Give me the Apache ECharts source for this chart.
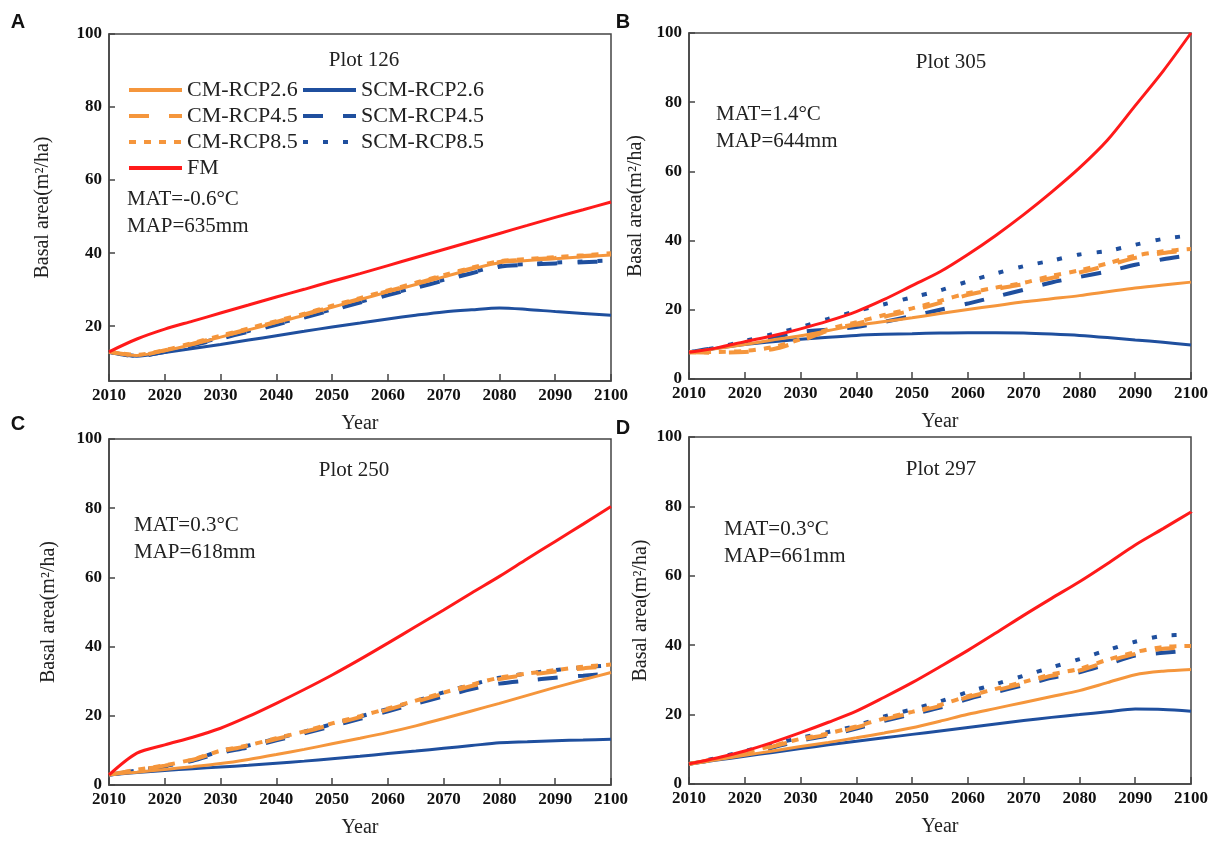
<!DOCTYPE html>
<html>
<head>
<meta charset="utf-8">
<script src="https://cdn.jsdelivr.net/npm/echarts@6/dist/echarts.min.js"></script>
<style>html,body{margin:0;padding:0;background:#fff;}#c{width:1217px;height:843px;}</style>
</head>
<body>
<div id="c"></div>
<script>
// ---- data ----
const years = [2010,2015,2020,2025,2030,2035,2040,2045,2050,2055,2060,2065,2070,2075,2080,2085,2090,2095,2100];
const xTicks = [2010,2020,2030,2040,2050,2060,2070,2080,2090,2100];
const yTicksA = [20,40,60,80,100];
const seriesNames = ['SCM-RCP2.6','SCM-RCP4.5','SCM-RCP8.5','CM-RCP2.6','CM-RCP4.5','CM-RCP8.5','FM'];
const plotTitles = ['Plot 126','Plot 305','Plot 250','Plot 297'];
const matTexts = ['MAT=-0.6°C','MAT=1.4°C','MAT=0.3°C','MAT=0.3°C'];
const mapTexts = ['MAP=635mm','MAP=644mm','MAP=618mm','MAP=661mm'];
const panelLetters = ['A','B','C','D'];

// Panel A (Plot 126)
const A_FM    = [13,16.5,19.2,21.4,23.6,25.8,28,30.1,32.3,34.4,36.6,38.8,41,43.2,45.4,47.6,49.8,51.9,54];
const A_CM26  = [13,12,13.3,15,17,19,21,23,25.2,27.3,29.4,31.4,33.5,35.6,37.4,38,38.5,39,39.5];
const A_CM45  = [13,12,13.4,15.2,17.2,19.2,21.2,23.2,25.4,27.5,29.6,31.7,33.8,35.8,37.6,38.2,38.7,39.2,39.8];
const A_CM85  = [13,12.2,13.5,15.4,17.4,19.4,21.4,23.4,25.6,27.7,29.8,31.9,34,36,37.8,38.4,38.9,39.4,40];
const A_SCM26 = [13,11.8,12.8,13.9,15,16.2,17.4,18.6,19.8,20.9,22,23,23.9,24.5,25,24.6,24,23.5,23];
const A_SCM45 = [13,11.8,13,14.8,16.6,18.5,20.4,22.4,24.4,26.5,28.5,30.5,32.5,34.5,36.3,36.8,37.2,37.5,37.8];
const A_SCM85 = [13,11.9,13.1,15,16.8,18.7,20.6,22.6,24.6,26.7,28.7,30.7,32.7,34.7,36.5,37,37.4,37.7,38];

// Panel B (Plot 305)
const B_FM    = [7.7,9,10.8,12.5,14.5,16.8,19.5,23,27,31,36,41.5,47.5,54,61,69,79,89,100];
const B_CM26  = [7.7,8.8,10,11.3,12.5,14,15.5,16.6,17.7,18.9,20.1,21.2,22.3,23.2,24.1,25.2,26.3,27.2,28];
const B_CM45  = [7.7,7.6,7.8,8.6,11,14,16,18,19.8,22,24.3,26,27.4,29.2,30.8,32.8,35,36.4,37.2];
const B_CM85  = [7.7,7.8,8.1,9.2,11.5,14.4,16.4,18.5,20.4,22.6,24.8,26.4,27.8,29.8,31.4,33.4,35.6,36.9,37.6];
const B_SCM26 = [7.7,8.9,10,10.8,11.5,12.1,12.6,12.9,13.1,13.3,13.4,13.4,13.3,13,12.6,12,11.3,10.6,9.8];
const B_SCM45 = [7.7,9.1,10.3,12,13.6,14.3,15,16.5,18.2,20,21.8,23.8,25.8,27.9,29.5,31.1,33,34.6,35.8];
const B_SCM85 = [7.7,9.1,11,13,15,17.4,19.6,21.6,23.6,25.6,28.2,30.5,32.6,34.2,36,37,38.8,40.5,41.5];

// Panel C (Plot 250)
const C_FM    = [2.9,9.2,11.6,13.8,16.4,19.8,23.6,27.6,31.8,36.3,41,45.8,50.6,55.5,60.3,65.4,70.4,75.4,80.5];
const C_CM26  = [3,3.7,4.5,5.3,6.2,7.4,8.8,10.3,11.9,13.5,15.2,17.1,19.2,21.4,23.6,25.9,28.2,30.4,32.5];
const C_CM45  = [3,4.3,5.6,7.3,9.7,11.3,13.3,15.3,17.5,19.6,21.8,24.1,26.4,28.6,30.6,31.8,32.8,33.7,34.3];
const C_CM85  = [3,4.4,5.7,7.4,9.9,11.5,13.5,15.5,17.8,19.9,22.1,24.4,26.7,29,31,32.2,33.2,34.2,34.8];
const C_SCM26 = [2.9,3.6,4.2,4.7,5.2,5.7,6.3,6.9,7.6,8.3,9.1,9.8,10.6,11.4,12.2,12.5,12.8,13,13.2];
const C_SCM45 = [3,4.1,5.3,7,9.3,10.9,12.9,14.9,17,19.1,21.3,23.5,25.6,27.7,29.3,30.2,31,31.6,32.2];
const C_SCM85 = [3,4.2,5.5,7.2,9.8,11.4,13.4,15.4,17.6,19.8,22,24.3,26.8,29,31,32.2,33.2,34,34.6];

// Panel D (Plot 297)
const D_FM    = [5.8,7.5,9.5,12,14.8,17.8,21,25,29.2,33.8,38.5,43.5,48.6,53.5,58.3,63.5,68.9,73.6,78.4];
const D_CM26  = [5.8,7,8.3,9.5,10.8,12,13.3,14.7,16.2,18.1,20.1,21.8,23.5,25.2,26.9,29.2,31.5,32.5,33];
const D_CM45  = [5.8,7.2,8.8,10.8,12.8,14.3,16.3,18.6,20.5,22.5,25,27,29,31.2,32.7,35.3,37.5,39,39.3];
const D_CM85  = [5.8,7.3,9,11,13,14.6,16.6,18.9,20.8,22.8,25.3,27.4,29.4,31.6,33.2,35.8,38,39.5,39.8];
const D_SCM26 = [5.8,6.9,8,9.1,10.2,11.3,12.3,13.3,14.3,15.3,16.3,17.3,18.3,19.2,20,20.8,21.6,21.5,21];
const D_SCM45 = [5.8,7.1,8.6,10.5,12.5,14,16,18.2,20.1,22,24.5,26.5,28.5,30.6,32.2,34.5,37,37.8,38.5];
const D_SCM85 = [5.8,7.5,9.5,11.5,13.3,15,16.8,19.5,21.5,23.8,26.5,28.8,31.2,33.6,36,38.6,41,42.7,43];

const panels = [
  {'SCM-RCP2.6':A_SCM26,'SCM-RCP4.5':A_SCM45,'SCM-RCP8.5':A_SCM85,'CM-RCP2.6':A_CM26,'CM-RCP4.5':A_CM45,'CM-RCP8.5':A_CM85,'FM':A_FM},
  {'SCM-RCP2.6':B_SCM26,'SCM-RCP4.5':B_SCM45,'SCM-RCP8.5':B_SCM85,'CM-RCP2.6':B_CM26,'CM-RCP4.5':B_CM45,'CM-RCP8.5':B_CM85,'FM':B_FM},
  {'SCM-RCP2.6':C_SCM26,'SCM-RCP4.5':C_SCM45,'SCM-RCP8.5':C_SCM85,'CM-RCP2.6':C_CM26,'CM-RCP4.5':C_CM45,'CM-RCP8.5':C_CM85,'FM':C_FM},
  {'SCM-RCP2.6':D_SCM26,'SCM-RCP4.5':D_SCM45,'SCM-RCP8.5':D_SCM85,'CM-RCP2.6':D_CM26,'CM-RCP4.5':D_CM45,'CM-RCP8.5':D_CM85,'FM':D_FM}
];

// ---- styles / layout ----
const ORANGE = '#F5963C', BLUE = '#1F4F9E', RED = '#FF1A1A';
const lineStyles = {
  'CM-RCP2.6':  {color: ORANGE, width: 3, type: 'solid'},
  'CM-RCP4.5':  {color: ORANGE, width: 4, type: [20, 20]},
  'CM-RCP8.5':  {color: ORANGE, width: 4, type: [7, 8]},
  'SCM-RCP2.6': {color: BLUE, width: 3, type: 'solid'},
  'SCM-RCP4.5': {color: BLUE, width: 4, type: [20, 20]},
  'SCM-RCP8.5': {color: BLUE, width: 4, type: [5, 15]},
  'FM':         {color: RED, width: 3, type: 'solid'}
};
const grids = [
  {left: 109, top: 34, width: 502, height: 347},
  {left: 689, top: 33, width: 502, height: 346},
  {left: 109, top: 439, width: 502, height: 346},
  {left: 689, top: 437, width: 502, height: 347}
];
const yNameGaps = [56, 43, 50, 38];
const titlePos = [[364, 60], [951, 62], [354, 470], [941, 469]];
const matPos = [[127, 199], [716, 114], [134, 525], [724, 529]];
const letterPos = [[18, 22], [623, 22], [18, 424], [623, 428]];

const SERIF = '"Liberation Serif", "Times New Roman", serif';
const AX = '#444';

const option = {
  animation: false,
  backgroundColor: '#fff',
  grid: grids.map(g => Object.assign({show: true, borderColor: AX, borderWidth: 1.5, backgroundColor: 'transparent', containLabel: false, outerBoundsMode: 'none'}, g)),
  xAxis: grids.map((g, i) => ({
    type: 'value', gridIndex: i, min: 2010, max: 2100, interval: 10,
    name: 'Year', nameLocation: 'middle', nameGap: 33,
    nameTextStyle: {fontFamily: SERIF, fontSize: 20, color: '#222'},
    axisLine: {show: true, lineStyle: {color: AX, width: 1.5}},
    axisTick: {show: true, inside: true, length: 7, lineStyle: {color: AX, width: 1.5}},
    axisLabel: {fontFamily: SERIF, fontSize: 17, fontWeight: 'bold', color: '#111', margin: 6, formatter: v => String(v)},
    splitLine: {show: false}
  })),
  yAxis: grids.map((g, i) => {
    const ax = {
      type: 'value', gridIndex: i,
      name: 'Basal area(m²/ha)', nameLocation: 'middle', nameGap: yNameGaps[i],
      nameTextStyle: {fontFamily: SERIF, fontSize: 20, color: '#222'},
      axisLine: {show: true, lineStyle: {color: AX, width: 1.5}},
      axisTick: {show: true, inside: true, length: 6, lineStyle: {color: AX, width: 1.5}},
      axisLabel: {fontFamily: SERIF, fontSize: 17, fontWeight: 'bold', color: '#111', margin: 7, formatter: v => String(v)},
      splitLine: {show: false}
    };
    if (i === 0) {
      ax.min = 5; ax.max = 100;
      ax.axisLabel.customValues = yTicksA;
      ax.axisTick.customValues = yTicksA;
    } else {
      ax.min = 0; ax.max = 100; ax.interval = 20;
    }
    return ax;
  }),
  legend: [
    {data: ['CM-RCP2.6', 'CM-RCP4.5', 'CM-RCP8.5', 'FM'], left: 127, top: 79},
    {data: ['SCM-RCP2.6', 'SCM-RCP4.5', 'SCM-RCP8.5'], left: 301, top: 79}
  ].map(l => Object.assign({
    orient: 'vertical', itemWidth: 53, itemHeight: 14, itemGap: 4, padding: 0,
    itemStyle: {color: 'rgba(0,0,0,0)', borderWidth: 0, opacity: 0},
    lineStyle: {width: 4},
    textStyle: {fontFamily: SERIF, fontSize: 22, color: '#222'}
  }, l)),
  series: [],
  graphic: []
};

panels.forEach((p, i) => {
  seriesNames.forEach(name => {
    const ls = lineStyles[name];
    option.series.push({
      type: 'line', name: name, xAxisIndex: i, yAxisIndex: i,
      data: years.map((y, k) => [y, p[name][k]]),
      showSymbol: false, symbol: 'none',
      smooth: 0.3,
      color: ls.color,
      lineStyle: {color: ls.color, width: ls.width, type: ls.type},
      itemStyle: {color: ls.color}
    });
  });
  option.graphic.push(
    {type: 'text', x: titlePos[i][0], y: titlePos[i][1], style: {text: plotTitles[i], font: '21px ' + SERIF, fill: '#222', textAlign: 'center', textVerticalAlign: 'middle'}},
    {type: 'text', x: matPos[i][0], y: matPos[i][1], style: {text: matTexts[i], font: '21px ' + SERIF, fill: '#222', textAlign: 'left', textVerticalAlign: 'middle'}},
    {type: 'text', x: matPos[i][0], y: matPos[i][1] + 27, style: {text: mapTexts[i], font: '21px ' + SERIF, fill: '#222', textAlign: 'left', textVerticalAlign: 'middle'}},
    {type: 'text', x: letterPos[i][0], y: letterPos[i][1], style: {text: panelLetters[i], font: 'bold 20px "Liberation Sans", Arial, sans-serif', fill: '#111', textAlign: 'center', textVerticalAlign: 'middle'}}
  );
});

const chart = echarts.init(document.getElementById('c'), null, {renderer: 'canvas'});
chart.setOption(option);
</script>
</body>
</html>
